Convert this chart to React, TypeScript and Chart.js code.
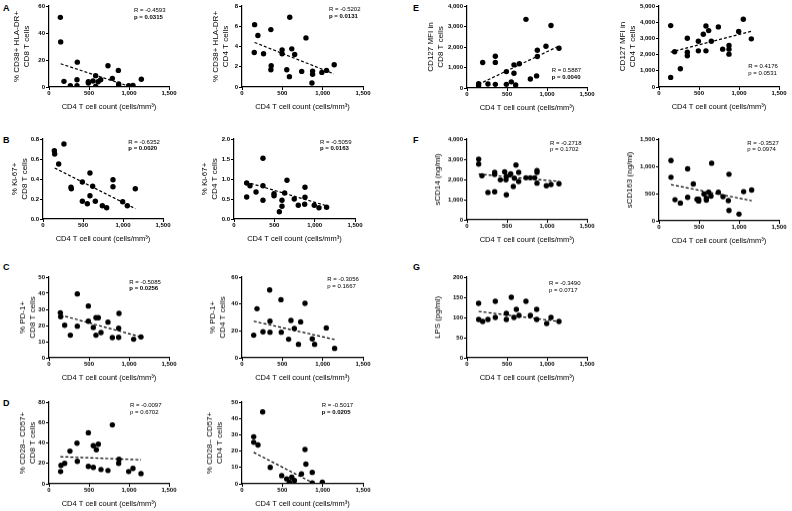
import React, { useEffect, useRef } from "react";
import { Chart, registerables } from "chart.js";
Chart.register(...registerables);

const FONT = "'Liberation Sans', Arial, Helvetica, sans-serif";
const X_TITLE = "CD4 T cell count (cells/mm\u00B3)";
const X_TICKS = [0, 500, 1000, 1500];

// ---- Panel A ----
const aCd8X = [142, 146, 187, 267, 354, 350, 350, 492, 492, 550, 583, 613, 646, 583, 737, 792, 867, 871, 871, 996, 1050, 1154];
const aCd8Y = [51.6, 33.4, 4.2, 1.0, 18.4, 5.4, 1.0, 2.9, 3.9, 4.4, 8.4, 3.9, 5.4, 0.5, 15.7, 6.4, 12.3, 2.2, 1.0, 1.0, 1.2, 5.7];
const aCd8Fit = [146, 17.2, 1030, 0];
const aCd4X = [156, 197, 152, 267, 358, 362, 358, 497, 497, 592, 617, 653, 555, 588, 740, 793, 875, 875, 867, 990, 1048, 1143];
const aCd4Y = [6.16, 5.08, 3.41, 3.28, 5.67, 2.1, 1.7, 3.67, 3.28, 6.89, 3.77, 3.21, 1.7, 1.02, 1.54, 4.85, 1.57, 1.25, 0.39, 1.44, 1.64, 2.2];
const aCd4Fit = [156, 4.4, 1139, 1.3];

// ---- Panel B ----
const bCd8X = [142, 146, 262, 196, 350, 354, 492, 587, 621, 492, 554, 587, 654, 742, 796, 875, 875, 996, 1054, 1154];
const bCd8Y = [0.683, 0.65, 0.75, 0.55, 0.317, 0.303, 0.37, 0.46, 0.327, 0.177, 0.153, 0.233, 0.177, 0.133, 0.113, 0.393, 0.323, 0.173, 0.133, 0.303];
const bCd8Fit = [146, 0.51, 1154, 0.103];
const bCd4X = [157, 198, 157, 273, 359, 359, 359, 496, 496, 657, 628, 595, 595, 562, 747, 797, 880, 880, 876, 995, 1053, 1148];
const bCd4Y = [0.9, 0.833, 0.55, 0.675, 1.517, 0.833, 0.467, 0.633, 0.583, 0.967, 0.65, 0.467, 0.317, 0.183, 0.5, 0.342, 0.792, 0.542, 0.367, 0.342, 0.283, 0.292];
const bCd4Fit = [149, 0.925, 1148, 0.33];

// ---- Panel C ----
const cCd8X = [142, 146, 196, 354, 354, 267, 492, 492, 554, 587, 617, 650, 587, 737, 875, 871, 792, 871, 1058, 1150];
const cCd8Y = [27.9, 25.4, 20.2, 39.6, 19.6, 14.0, 32.1, 22.7, 18.8, 24.8, 24.8, 15.6, 14.0, 22.1, 27.5, 18.3, 12.5, 12.7, 11.5, 12.9];
const cCd8Fit = [142, 26.5, 1150, 12.9];
const cCd4X = [145, 186, 260, 343, 347, 347, 483, 487, 578, 607, 649, 727, 781, 871, 1045, 1148, 700, 900];
const cCd4Y = [16.8, 36.5, 19.3, 50.4, 27.2, 19.0, 43.2, 19.0, 13.8, 27.7, 21.7, 26.7, 40.5, 14.1, 22.2, 7.0, 10.0, 10.0];
const cCd4Fit = [145, 27.2, 1148, 13.6];

// ---- Panel D ----
const dCd8X = [262, 350, 492, 554, 617, 592, 792, 875, 145, 150, 196, 354, 492, 554, 650, 737, 871, 996, 1050, 1150];
const dCd8Y = [32.0, 39.7, 50.0, 37.3, 38.7, 33.3, 57.7, 24.0, 12, 18, 20, 22, 17, 16, 14, 13, 20, 12, 15, 10];
const dCd8Fit = [142, 26.5, 1150, 23.5];
const dCd4X = [256, 145, 145, 198, 781, 350, 492, 554, 587, 617, 650, 737, 792, 871, 871, 996];
const dCd4Y = [44, 28.8, 25.4, 23.8, 21.0, 10, 5, 3, 1, 4, 2, 6, 12, 0.5, 7, 1];
const dCd4Fit = [145, 19.2, 900, 0];

// ---- Panel E ----
const eCd8X = [145, 145, 196, 262, 354, 354, 354, 492, 492, 554, 587, 587, 608, 654, 737, 792, 879, 879, 870, 987, 1050, 1150];
const eCd8Y = [210, 113, 1247, 194, 1550, 1250, 178, 800, 178, 300, 1130, 720, 150, 1180, 3350, 440, 1540, 1840, 590, 2040, 3050, 1940];
const eCd8Fit = [145, 180, 1150, 2050];
const eCd4X = [146, 146, 196, 267, 354, 354, 354, 492, 492, 554, 587, 587, 621, 654, 742, 796, 875, 875, 875, 996, 1054, 1154];
const eCd4Y = [3790, 594, 2172, 1127, 3012, 2152, 1926, 2828, 2233, 3258, 3770, 2233, 3483, 2828, 3709, 2336, 2561, 2336, 2029, 3422, 4180, 2971];
const eCd4Fit = [146, 2152, 1154, 3442];

// ---- Panel F ----
const fCd14X = [146, 146, 187, 262, 346, 346, 346, 417, 471, 487, 492, 492, 546, 579, 592, 612, 646, 646, 737, 792, 846, 875, 875, 875, 992, 1050, 1150];
const fCd14Y = [3008, 2760, 2182, 1355, 2347, 2248, 1388, 1983, 2380, 1983, 1240, 2149, 2281, 1653, 2066, 2711, 2347, 1901, 2083, 2083, 2083, 2446, 2347, 1818, 1686, 1752, 1785];
const fCd14Fit = [146, 2265, 1150, 1901];
const fCd163X = [150, 150, 200, 267, 358, 358, 429, 475, 496, 496, 563, 592, 592, 621, 658, 650, 742, 800, 875, 867, 875, 1000, 1058, 1158];
const fCd163Y = [1107, 799, 387, 326, 953, 430, 676, 393, 393, 363, 492, 412, 381, 523, 1057, 455, 523, 443, 855, 369, 191, 123, 535, 566];
const fCd163Fit = [150, 664, 1158, 369];

// ---- Panel G ----
const gLpsX = [145, 146, 196, 262, 354, 354, 492, 492, 554, 587, 617, 650, 737, 792, 871, 871, 996, 1050, 1150];
const gLpsY = [135, 95, 90, 95, 140, 100, 110, 95, 150, 100, 120, 105, 140, 105, 95, 120, 85, 100, 90];
const gLpsFit = [145, 115, 1150, 90];

type P = {
  left: number; top: number; w: number; h: number;
  xs: number[]; ys: number[]; fit: number[];
  yMax: number; yStep: number; yTitle: string[]; tpad: number;
  r: string; p: string; pBold: boolean; rx: number; ry: number;
};

const panels: P[] = [
  { left: 49.3, top: 6, w: 120, h: 81.3, xs: aCd8X, ys: aCd8Y, fit: aCd8Fit, yMax: 60, yStep: 20, yTitle: ["% CD38+ HLA-DR+", "CD8 T cells"], tpad: 7.4, r: "R = -0.4593", p: "p = 0.0315", pBold: true, rx: 134, ry: 7 },
  { left: 241.7, top: 6, w: 121.6, h: 81.3, xs: aCd4X, ys: aCd4Y, fit: aCd4Fit, yMax: 8, yStep: 2, yTitle: ["% CD38+ HLA-DR+", "CD4 T cells"], tpad: 13.3, r: "R = -0.5202", p: "p = 0.0131", pBold: true, rx: 329, ry: 6.3 },
  { left: 42.7, top: 139.3, w: 120, h: 80.2, xs: bCd8X, ys: bCd8Y, fit: bCd8Fit, yMax: 0.8, yStep: 0.2, yTitle: ["% Ki-67+", "CD8 T cells"], tpad: 11.3, r: "R = -0.6352", p: "p = 0.0020", pBold: true, rx: 128.3, ry: 138.5 },
  { left: 234, top: 139.3, w: 121, h: 80.2, xs: bCd4X, ys: bCd4Y, fit: bCd4Fit, yMax: 2, yStep: 0.5, yTitle: ["% Ki-67+", "CD4 T cells"], tpad: 11, r: "R = -0.5059", p: "p = 0.0163", pBold: true, rx: 320, ry: 138.5 },
  { left: 49.3, top: 277.3, w: 120, h: 80.4, xs: cCd8X, ys: cCd8Y, fit: cCd8Fit, yMax: 50, yStep: 10, yTitle: ["% PD-1+", "CD8 T cells"], tpad: 13.4, r: "R = -0.5085", p: "p = 0.0256", pBold: true, rx: 129.3, ry: 278.5 },
  { left: 242.3, top: 277.3, w: 121, h: 80.4, xs: cCd4X, ys: cCd4Y, fit: cCd4Fit, yMax: 60, yStep: 20, yTitle: ["% PD-1+", "CD4 T cells"], tpad: 11, r: "R = -0.3056", p: "p = 0.1667", pBold: false, rx: 327.3, ry: 276.3 },
  { left: 49.3, top: 402.3, w: 120, h: 81.3, xs: dCd8X, ys: dCd8Y, fit: dCd8Fit, yMax: 80, yStep: 20, yTitle: ["% CD28\u2013 CD57+", "CD8 T cells"], tpad: 14, r: "R = -0.0097", p: "p = 0.6702", pBold: false, rx: 130, ry: 402 },
  { left: 242.3, top: 402.3, w: 121, h: 81.3, xs: dCd4X, ys: dCd4Y, fit: dCd4Fit, yMax: 50, yStep: 10, yTitle: ["% CD28\u2013 CD57+", "CD4 T cells"], tpad: 8, r: "R = -0.5017", p: "p = 0.0205", pBold: true, rx: 321.7, ry: 402 },
  { left: 466.7, top: 6, w: 120, h: 82, xs: eCd8X, ys: eCd8Y, fit: eCd8Fit, yMax: 4000, yStep: 1000, yTitle: ["CD127 MFI in", "CD8 T cells"], tpad: 4, r: "R = 0.5887", p: "p = 0.0040", pBold: true, rx: 551.7, ry: 67 },
  { left: 659.3, top: 6, w: 120, h: 81.3, xs: eCd4X, ys: eCd4Y, fit: eCd4Fit, yMax: 5000, yStep: 1000, yTitle: ["CD127 MFI in", "CD4 T cells"], tpad: 4, r: "R = 0.4176", p: "p = 0.0531", pBold: false, rx: 748.3, ry: 63 },
  { left: 466.7, top: 139.3, w: 120, h: 80.7, xs: fCd14X, ys: fCd14Y, fit: fCd14Fit, yMax: 4000, yStep: 1000, yTitle: ["sCD14 (ng/ml)"], tpad: 10.6, r: "R = -0.2718", p: "p = 0.1702", pBold: false, rx: 550, ry: 139.5 },
  { left: 659.3, top: 139.3, w: 120, h: 81.3, xs: fCd163X, ys: fCd163Y, fit: fCd163Fit, yMax: 1500, yStep: 500, yTitle: ["sCD163 (ng/ml)"], tpad: 10.7, r: "R = -0.3527", p: "p = 0.0974", pBold: false, rx: 747.3, ry: 139.5 },
  { left: 466.7, top: 277.3, w: 120, h: 80.4, xs: gLpsX, ys: gLpsY, fit: gLpsFit, yMax: 200, yStep: 50, yTitle: ["LPS (pg/ml)"], tpad: 11, r: "R = -0.3490", p: "p = 0.0717", pBold: false, rx: 549, ry: 280 },
];

const letters = [
  { t: "A", x: 3, y: 3 }, { t: "B", x: 3, y: 134.5 }, { t: "C", x: 3, y: 262 }, { t: "D", x: 3, y: 398 },
  { t: "E", x: 413, y: 3 }, { t: "F", x: 413, y: 134.5 }, { t: "G", x: 413, y: 262 },
];

const YW = 45, XH = 26, PT = 6, PR = 14;

function fmt(v: number) {
  return Number(v).toLocaleString("en-US");
}

function Panel({ p }: { p: P }) {
  const ref = useRef<HTMLCanvasElement | null>(null);
  const cw = YW + p.w + PR;
  const ch = PT + p.h + XH;
  useEffect(() => {
    const pts = p.xs.map((x, i) => ({ x, y: p.ys[i] }));
    const chart = new Chart(ref.current as HTMLCanvasElement, {
      type: "scatter",
      data: {
        datasets: [
          {
            type: "scatter",
            data: pts,
            pointRadius: 2.7,
            pointBackgroundColor: "#000",
            pointBorderColor: "#000",
            pointBorderWidth: 0,
          } as any,
          {
            type: "line",
            data: [{ x: p.fit[0], y: p.fit[1] }, { x: p.fit[2], y: p.fit[3] }],
            borderColor: "#000",
            borderWidth: 1.2,
            borderDash: [3, 2],
            pointRadius: 0,
            fill: false,
          } as any,
        ],
      },
      options: {
        animation: false,
        responsive: false,
        maintainAspectRatio: false,
        devicePixelRatio: 1,
        layout: { padding: { top: PT, right: PR, left: 0, bottom: 0 } },
        plugins: { legend: { display: false }, tooltip: { enabled: false } },
        scales: {
          x: {
            type: "linear",
            min: 0,
            max: 1500,
            afterFit: (s: any) => { s.height = XH; },
            afterBuildTicks: (s: any) => { s.ticks = X_TICKS.map((v) => ({ value: v })); },
            ticks: { font: { family: FONT, size: 6, weight: "bold" }, color: "#000", padding: 0, maxRotation: 0, callback: (v: any) => fmt(v) },
            grid: { display: true, drawOnChartArea: false, drawTicks: true, tickLength: 3, color: "#000", lineWidth: 1 },
            border: { display: true, color: "#000", width: 1.2 },
            title: { display: true, text: X_TITLE, font: { family: FONT, size: 7.5, lineHeight: 1.2 }, color: "#000", padding: { top: 0, bottom: 1.5 } },
          },
          y: {
            type: "linear",
            min: 0,
            max: p.yMax,
            afterFit: (s: any) => { s.width = YW; },
            ticks: { stepSize: p.yStep, font: { family: FONT, size: 6, weight: "bold" }, color: "#000", padding: 1, callback: (v: any) => (p.yStep < 1 ? Number(v).toFixed(1) : fmt(v)) },
            grid: { display: true, drawOnChartArea: false, drawTicks: true, tickLength: 3, color: "#000", lineWidth: 1 },
            border: { display: true, color: "#000", width: 1.2 },
            title: { display: true, text: p.yTitle, font: { family: FONT, size: 8, lineHeight: 1.25 }, color: "#000", padding: { top: p.tpad, bottom: 0 } },
          },
        },
      } as any,
    });
    return () => chart.destroy();
  }, []);
  return (
    <>
      <canvas
        ref={ref}
        width={cw}
        height={ch}
        style={{ position: "absolute", left: p.left - YW, top: p.top - PT, width: cw, height: ch }}
      />
      <div style={{ position: "absolute", left: p.rx, top: p.ry, fontFamily: FONT, fontSize: 6, lineHeight: "6.5px", color: "#000", whiteSpace: "pre" }}>
        <div>{p.r}</div>
        <div style={{ fontWeight: p.pBold ? "bold" : "normal" }}>{p.p}</div>
      </div>
    </>
  );
}

export default function App() {
  return (
    <div style={{ position: "absolute", left: 0, top: 0, width: 792, height: 511, background: "#fff", overflow: "hidden" }}>
      {letters.map((l) => (
        <div key={l.t} style={{ position: "absolute", left: l.x, top: l.y, fontFamily: FONT, fontWeight: "bold", fontSize: 9, lineHeight: "10px", color: "#000" }}>{l.t}</div>
      ))}
      {panels.map((p, i) => <Panel key={i} p={p} />)}
    </div>
  );
}
